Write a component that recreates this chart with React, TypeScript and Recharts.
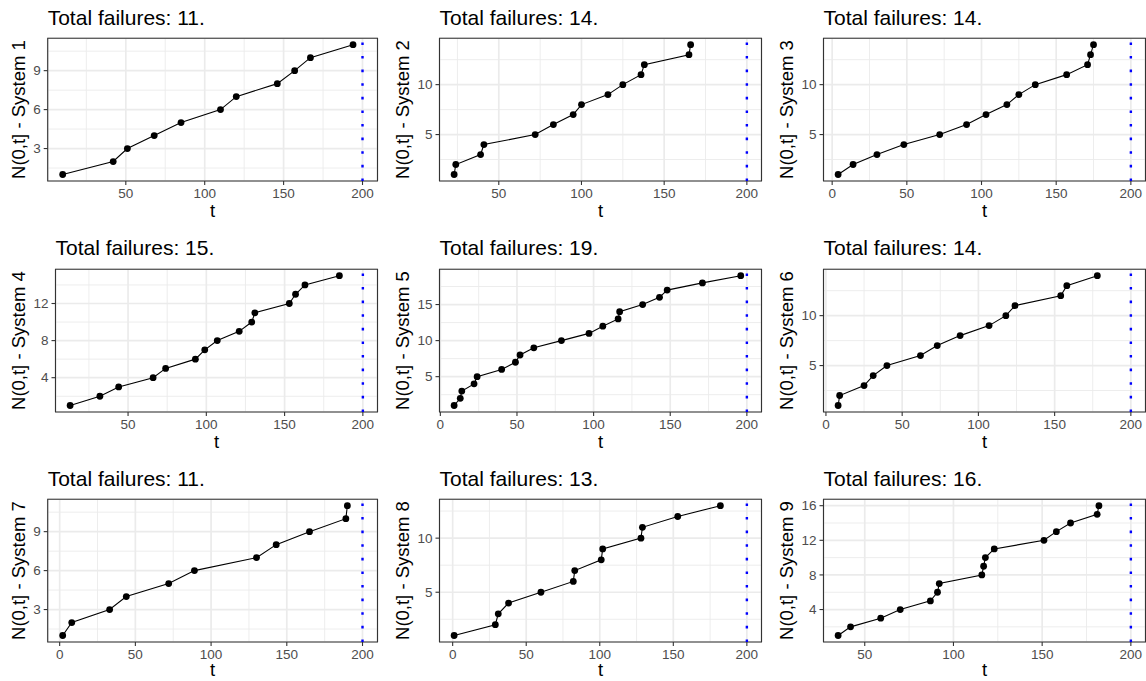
import {
  CartesianGrid,
  Line,
  LineChart,
  ReferenceArea,
  ReferenceLine,
  XAxis,
  YAxis,
} from 'recharts'

// failure times t and cumulative counts N(0,t] per system
const sys1Times = [10, 42, 51, 68, 85, 110, 120, 146, 157, 167, 194]
const sys1Counts = [1, 2, 3, 4, 5, 6, 7, 8, 9, 10, 11]
const sys2Times = [23, 24, 39, 41, 72, 83, 95, 100, 116, 125, 136, 138, 165, 166]
const sys2Counts = [1, 2, 3, 4, 5, 6, 7, 8, 9, 10, 11, 12, 13, 14]
const sys3Times = [4, 14, 30, 48, 72, 90, 103, 117, 125, 136, 157, 171, 173, 175]
const sys3Counts = [1, 2, 3, 4, 5, 6, 7, 8, 9, 10, 11, 12, 13, 14]
const sys4Times = [13, 32, 44, 66, 74, 93, 99, 107, 121, 129, 131, 153, 157, 163, 185]
const sys4Counts = [1, 2, 3, 4, 5, 6, 7, 8, 9, 10, 11, 12, 13, 14, 15]
const sys5Times = [9, 13, 14, 22, 24, 40, 49, 52, 61, 79, 97, 106, 116, 117, 132, 143, 148, 171, 196]
const sys5Counts = [1, 2, 3, 4, 5, 6, 7, 8, 9, 10, 11, 12, 13, 14, 15, 16, 17, 18, 19]
const sys6Times = [8, 9, 25, 31, 40, 62, 73, 88, 107, 118, 124, 154, 158, 178]
const sys6Counts = [1, 2, 3, 4, 5, 6, 7, 8, 9, 10, 11, 12, 13, 14]
const sys7Times = [2, 8, 33, 44, 72, 89, 130, 143, 165, 189, 190]
const sys7Counts = [1, 2, 3, 4, 5, 6, 7, 8, 9, 10, 11]
const sys8Times = [1, 29, 31, 38, 60, 82, 83, 101, 102, 128, 129, 153, 182]
const sys8Counts = [1, 2, 3, 4, 5, 6, 7, 8, 9, 10, 11, 12, 13]
const sys9Times = [35, 42, 59, 70, 87, 91, 92, 116, 117, 118, 123, 151, 158, 166, 181, 182]
const sys9Counts = [1, 2, 3, 4, 5, 6, 7, 8, 9, 10, 11, 12, 13, 14, 15, 16]

// observation window end (dotted blue line)
const END_TIME = 200

// axis breaks
const xTicksFrom0 = [0, 50, 100, 150, 200]
const xTicksFrom50 = [50, 100, 150, 200]
const yTicksBy3 = [3, 6, 9]
const yTicksBy4 = [4, 8, 12]
const yTicksBy4Long = [4, 8, 12, 16]
const yTicksBy5 = [5, 10]
const yTicksBy5Long = [5, 10, 15]

const panels = [
  { sys: 1, times: sys1Times, counts: sys1Counts, xTicks: xTicksFrom50, yTicks: yTicksBy3 },
  { sys: 2, times: sys2Times, counts: sys2Counts, xTicks: xTicksFrom50, yTicks: yTicksBy5 },
  { sys: 3, times: sys3Times, counts: sys3Counts, xTicks: xTicksFrom0, yTicks: yTicksBy5 },
  { sys: 4, times: sys4Times, counts: sys4Counts, xTicks: xTicksFrom50, yTicks: yTicksBy4 },
  { sys: 5, times: sys5Times, counts: sys5Counts, xTicks: xTicksFrom0, yTicks: yTicksBy5Long },
  { sys: 6, times: sys6Times, counts: sys6Counts, xTicks: xTicksFrom0, yTicks: yTicksBy5 },
  { sys: 7, times: sys7Times, counts: sys7Counts, xTicks: xTicksFrom0, yTicks: yTicksBy3 },
  { sys: 8, times: sys8Times, counts: sys8Counts, xTicks: xTicksFrom0, yTicks: yTicksBy5 },
  { sys: 9, times: sys9Times, counts: sys9Counts, xTicks: xTicksFrom50, yTicks: yTicksBy4Long },
]

const COL_X = [0, 384, 768]
const ROW_Y = [0, 230.7, 461]
// bottom row is tighter, its axis title sits a bit higher
const T_LABEL_OFFSET = [9.5, 9.5, 11]
const CELL_W = 384
const CELL_H = 230
const FONT = '"Liberation Sans", Arial, Helvetica, sans-serif'

// ggplot-style 5% expansion
function expand(lo: number, hi: number): [number, number] {
  const pad = (hi - lo) * 0.05
  return [lo - pad, hi + pad]
}

// minor breaks halfway between the major ones
function minorBreaks(major: number[], dom: [number, number]) {
  const step = major[1] - major[0]
  const out = major.map((v) => v - step / 2)
  out.push(major[major.length - 1] + step / 2)
  return out.filter((v) => v > dom[0] && v < dom[1])
}

function FailurePanel({ p, idx }: { p: (typeof panels)[number]; idx: number }) {
  const row = Math.floor(idx / 3)
  const data = p.times.map((t, i) => ({ t, n: p.counts[i] }))
  const total = p.counts[p.counts.length - 1]
  const xDom = expand(Math.min(...p.times), END_TIME)
  const yDom = expand(p.counts[0], total)
  const xTicks = p.xTicks.filter((v) => v >= xDom[0] && v <= xDom[1])
  const xMinor = minorBreaks(p.xTicks, xDom)
  const yMinor = minorBreaks(p.yTicks, yDom)
  const yAxisW = String(Math.max(...p.yTicks)).length > 1 ? 55.5 : 47.7

  return (
    <div
      style={{
        position: 'absolute',
        left: COL_X[idx % 3],
        top: ROW_Y[row],
        width: CELL_W,
        height: CELL_H,
      }}
    >
      <div
        style={{
          position: 'absolute',
          left: yAxisW,
          top: 6.7,
          fontSize: 21,
          lineHeight: '21px',
          color: '#000',
          whiteSpace: 'nowrap',
        }}
      >
        Total failures: {total}.
      </div>
      <LineChart width={CELL_W} height={CELL_H} data={data} margin={{ top: 38.2, right: 6.5, bottom: 4, left: 0 }}>
        <XAxis xAxisId="minor" type="number" dataKey="t" domain={xDom} ticks={xMinor} interval={0} hide allowDataOverflow />
        <YAxis yAxisId="minor" type="number" dataKey="n" domain={yDom} ticks={yMinor} interval={0} hide allowDataOverflow />
        <CartesianGrid xAxisId="minor" yAxisId="minor" stroke="#EBEBEB" strokeWidth={0.9} />
        <CartesianGrid stroke="#EBEBEB" strokeWidth={1.7} />
        <XAxis
          type="number"
          dataKey="t"
          domain={xDom}
          ticks={xTicks}
          interval={0}
          allowDataOverflow
          height={45}
          axisLine={false}
          tickSize={4}
          tickMargin={3.5}
          tickLine={{ stroke: '#333333', strokeWidth: 1.1 }}
          tick={{ fill: '#4D4D4D', fontSize: 13.5 }}
          label={{ value: 't', position: 'insideBottom', offset: T_LABEL_OFFSET[row], fill: '#000', fontSize: 18.5 }}
        />
        <YAxis
          type="number"
          dataKey="n"
          domain={yDom}
          ticks={p.yTicks}
          interval={0}
          allowDataOverflow
          width={yAxisW}
          axisLine={false}
          tickSize={4}
          tickMargin={3}
          tickLine={{ stroke: '#333333', strokeWidth: 1.1 }}
          tick={{ fill: '#4D4D4D', fontSize: 13.5 }}
          label={{
            value: `N(0,t] - System ${p.sys}`,
            angle: -90,
            position: 'insideLeft',
            offset: 18.8,
            fill: '#000',
            fontSize: 18.5,
            style: { textAnchor: 'middle' },
          }}
        />
        <Line
          type="linear"
          dataKey="n"
          stroke="#000"
          strokeWidth={1.1}
          dot={{ r: 3.4, fill: '#000', stroke: '#000', strokeWidth: 0 }}
          activeDot={false}
          isAnimationActive={false}
        />
        <ReferenceLine x={END_TIME} stroke="#0000FF" strokeWidth={2.4} strokeDasharray="2.6 11" />
        <ReferenceArea
          x1={xDom[0]}
          x2={xDom[1]}
          y1={yDom[0]}
          y2={yDom[1]}
          fill="none"
          fillOpacity={0}
          stroke="#333333"
          strokeWidth={1.1}
          ifOverflow="visible"
        />
      </LineChart>
    </div>
  )
}

export default function App() {
  return (
    <div
      style={{
        position: 'absolute',
        left: 0,
        top: 0,
        width: 1146,
        height: 681,
        overflow: 'hidden',
        background: '#fff',
        fontFamily: FONT,
      }}
    >
      {panels.map((p, i) => (
        <FailurePanel key={p.sys} p={p} idx={i} />
      ))}
    </div>
  )
}
